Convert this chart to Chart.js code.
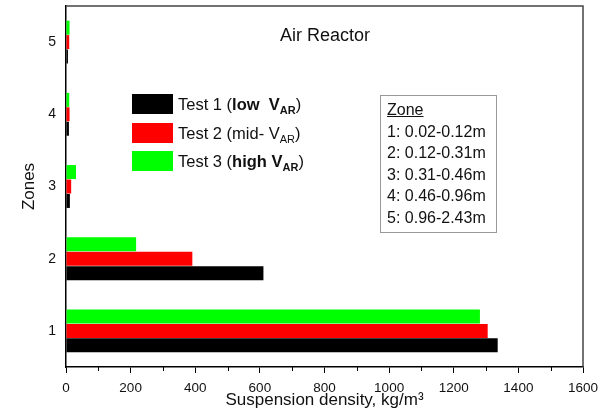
<!DOCTYPE html>
<html>
<head>
<meta charset="utf-8">
<script src="https://cdn.jsdelivr.net/npm/chart.js@4.4.1/dist/chart.umd.min.js"></script>
<style>
  body { margin: 0; background: #fff; font-family: "Liberation Sans", Arial, sans-serif; }
  #wrap { position: relative; width: 608px; height: 417px; }
  .note { position: absolute; color: #111; }
  #title { left: 280px; top: 25px; font-size: 18px; }
  #legend { left: 132px; top: 94px; font-size: 16.5px; }
  #legend div { height: 28.5px; line-height: 20px; white-space: nowrap; }
  #legend span.sw { display: inline-block; width: 41px; height: 20px; vertical-align: top; margin-right: 5px; }
  #legend sub { font-size: 11px; font-weight: bold; vertical-align: -4px; }
  #zones { left: 380px; top: 95px; width: 117px; height: 138px; border: 1px solid #999; font-size: 16px; line-height: 21.5px; padding: 3px 0 0 6px; box-sizing: border-box; }
</style>
</head>
<body>
<div id="wrap">
  <canvas id="chart" width="608" height="417"></canvas>
  <div class="note" id="title">Air Reactor</div>
  <div class="note" id="legend">
    <div><span class="sw" style="background:#000"></span>Test 1 (<b>low&nbsp; V<sub>AR</sub></b>)</div>
    <div><span class="sw" style="background:#ff0000"></span>Test 2 (mid- V<sub style="font-weight:normal">AR</sub>)</div>
    <div><span class="sw" style="background:#00ff00"></span>Test 3 (<b>high V<sub>AR</sub></b>)</div>
  </div>
  <div class="note" id="zones">
    <u>Zone</u><br>
    1: 0.02-0.12m<br>
    2: 0.12-0.31m<br>
    3: 0.31-0.46m<br>
    4: 0.46-0.96m<br>
    5: 0.96-2.43m
  </div>
</div>
<script>
const zones = ['1', '2', '3', '4', '5'];
const test1 = [1336, 611, 12, 9, 6];
const test2 = [1305, 391, 16, 11, 10];
const test3 = [1281, 217, 31, 10, 11];

// minor ticks on x axis and the box round the plot
const framePlugin = {
    id: 'frame',
    afterDraw(chart) {
        const ctx = chart.ctx;
        const area = chart.chartArea;
        const xs = chart.scales.x;
        ctx.save();
        ctx.strokeStyle = '#000';
        ctx.lineWidth = 1;
        for (let v = 100; v < 1600; v += 200) {
            const px = Math.round(xs.getPixelForValue(v)) + 0.5;
            ctx.beginPath();
            ctx.moveTo(px, area.bottom);
            ctx.lineTo(px, area.bottom + 4);
            ctx.stroke();
        }
        ctx.strokeStyle = '#444';
        ctx.lineWidth = 1.5;
        ctx.beginPath();
        ctx.moveTo(area.left, area.top);
        ctx.lineTo(area.right, area.top);
        ctx.lineTo(area.right, area.bottom);
        ctx.stroke();
        ctx.restore();
    }
};

new Chart(document.getElementById('chart'), {
    type: 'bar',
    data: {
        labels: zones,
        datasets: [
            { label: 'Test 3 (high VAR)', data: test3, backgroundColor: '#00ff00' },
            { label: 'Test 2 (mid- VAR)', data: test2, backgroundColor: '#ff0000' },
            { label: 'Test 1 (low VAR)', data: test1, backgroundColor: '#000000' }
        ]
    },
    options: {
        indexAxis: 'y',
        responsive: false,
        animation: false,
        layout: { padding: { top: 6, right: 25, left: 19, bottom: 0 } },
        datasets: { bar: { categoryPercentage: 0.6, barPercentage: 0.97 } },
        plugins: { legend: { display: false }, tooltip: { enabled: false } },
        scales: {
            x: {
                min: 0,
                max: 1600,
                ticks: {
                    stepSize: 200, color: '#111', font: { size: 13.5, family: 'Liberation Sans' }, padding: 7, maxRotation: 0,
                    callback: v => String(v)
                },
                grid: { drawOnChartArea: false, drawTicks: true, tickLength: 6, color: '#000' },
                border: { color: '#000', width: 1.5 },
                title: { display: true, text: 'Suspension density, kg/m\u00B3', color: '#111', font: { size: 17, family: 'Liberation Sans' }, padding: { top: 0, bottom: 6 } },
                afterFit(scale) { scale.height = 50; }
            },
            y: {
                reverse: true,
                ticks: { color: '#111', font: { size: 14, family: 'Liberation Sans' }, padding: 2 },
                grid: { display: false },
                border: { color: '#000', width: 1.5 },
                title: { display: true, text: 'Zones', color: '#111', font: { size: 17, family: 'Liberation Sans' }, padding: { top: 0, bottom: 0 } },
                afterFit(scale) { scale.width = 47; scale.paddingTop = 0; scale.paddingBottom = 0; }
            }
        }
    },
    plugins: [framePlugin]
});
</script>
</body>
</html>
